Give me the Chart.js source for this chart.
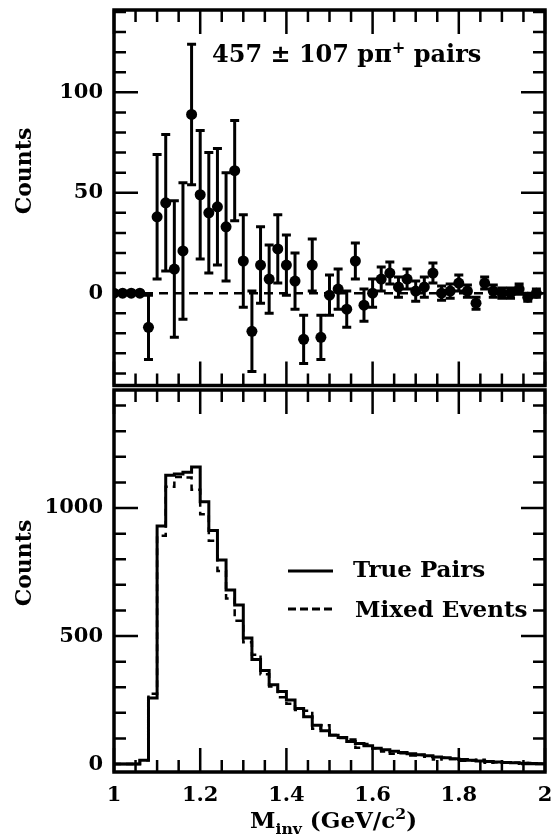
<!DOCTYPE html>
<html>
<head>
<meta charset="utf-8">
<script src="https://cdn.jsdelivr.net/npm/chart.js@4.4.1/dist/chart.umd.min.js"></script>
<style>
  html, body { margin: 0; padding: 0; background: #fff; }
  #wrap { position: relative; width: 557px; height: 838px; overflow: hidden;
          font-family: 'DejaVu Serif', serif; font-weight: bold; color: #000; }
  canvas { position: absolute; left: 0; }
  #top { top: 0; }
  #bottom { top: 387px; }
  .txt { position: absolute; white-space: nowrap; line-height: 1; }
  .rot { transform: translate(-50%, -50%) rotate(-90deg); }
  sub, sup { font-size: 0.68em; line-height: 0; }
</style>
</head>
<body>
<div id="wrap">
  <canvas id="top" width="557" height="393"></canvas>
  <canvas id="bottom" width="557" height="451"></canvas>
  <div class="txt" style="left:212px;top:42px;font-size:24px">457 ± 107 pπ<sup>+</sup> pairs</div>
  <div class="txt rot" style="left:23px;top:171px;font-size:22px">Counts</div>
  <div class="txt rot" style="left:23px;top:563px;font-size:22px">Counts</div>
  <div class="txt" style="left:353px;top:557px;font-size:23px">True Pairs</div>
  <div class="txt" style="left:355px;top:597px;font-size:23px">Mixed Events</div>
  <div class="txt" style="left:250px;top:808px;font-size:23px">M<sub>inv</sub> (GeV/c<sup>2</sup>)</div>
</div>
<script>
// invariant mass bins, 0.02 GeV/c^2 (left edge)
var massBins = [1.00, 1.02, 1.04, 1.06, 1.08, 1.10, 1.12, 1.14, 1.16, 1.18,
                1.20, 1.22, 1.24, 1.26, 1.28, 1.30, 1.32, 1.34, 1.36, 1.38,
                1.40, 1.42, 1.44, 1.46, 1.48, 1.50, 1.52, 1.54, 1.56, 1.58,
                1.60, 1.62, 1.64, 1.66, 1.68, 1.70, 1.72, 1.74, 1.76, 1.78,
                1.80, 1.82, 1.84, 1.86, 1.88, 1.90, 1.92, 1.94, 1.96, 1.98];

// upper panel: true - mixed
var diffCounts = [0, 0, 0, 0, -17, 38, 45, 12, 21, 89,
                  49, 40, 43, 33, 61, 16, -19, 14, 7, 22,
                  14, 6, -23, 14, -22, -1, 2, -8, 16, -6,
                  0, 7, 10, 3, 7, 1, 3, 10, 0, 1,
                  5, 1, -5, 5, 1, 0, 0, 2, -2, 0];
var diffErrors = [0, 0, 0, 0, 16, 31, 34, 34, 34, 35,
                  32, 30, 29, 27, 25, 23, 20, 19, 17, 17,
                  15, 14, 12, 13, 11, 10, 10, 9, 9, 8,
                  7, 6, 5.5, 5, 5, 5, 5, 5, 3.5, 3.5,
                  4, 3, 3, 3, 3, 2.5, 2.5, 2.5, 2, 2];

// lower panel: histograms
var truePairs = [0, 0, 0, 15, 258, 930, 1128, 1133, 1140, 1160,
                 1025, 912, 797, 680, 621, 492, 408, 365, 310, 283,
                 250, 217, 185, 152, 130, 113, 104, 88, 80, 72,
                 62, 56, 50, 45, 40, 36, 32, 28, 25, 21,
                 18, 15, 12, 10, 8, 6, 5, 3, 2, 1];
var mixedEvents = [0, 0, 0, 15, 275, 892, 1083, 1121, 1119, 1071,
                   976, 872, 754, 647, 560, 476, 427, 351, 303, 261,
                   236, 211, 208, 138, 152, 114, 102, 96, 64, 78,
                   62, 49, 40, 42, 33, 35, 29, 18, 25, 20,
                   13, 14, 17, 5, 7, 6, 5, 1, 4, 1];

var massTicks = [1, 1.2, 1.4, 1.6, 1.8, 2];
var diffTicks = [0, 50, 100];
var countTicks = [0, 500, 1000];

Chart.defaults.font.family = "'DejaVu Serif', serif";
Chart.defaults.font.weight = 'bold';
Chart.defaults.font.size = 21;
Chart.defaults.color = '#000';

/**
 * frame + inward tick marks on all four sides, legend samples
 */
var frameTicks = {
  id: 'frameTicks',
  afterDraw: function (chart, args, opts) {
    var ctx = chart.ctx, a = chart.chartArea;
    var xs = chart.scales.x, ys = chart.scales.y;
    ctx.save();
    ctx.strokeStyle = '#000';
    ctx.lineWidth = 2.5;
    ctx.beginPath();
    var i, v, p, len, n;
    n = Math.round((xs.max - xs.min) / opts.xMinor);
    for (i = 0; i <= n; i++) {
      v = xs.min + i * opts.xMinor;
      p = xs.getPixelForValue(v);
      len = Math.abs(v / opts.xMajor - Math.round(v / opts.xMajor)) < 1e-6 ? opts.major : opts.minor;
      ctx.moveTo(p, a.top); ctx.lineTo(p, a.top + len);
      ctx.moveTo(p, a.bottom); ctx.lineTo(p, a.bottom - len);
    }
    var start = Math.ceil(ys.min / opts.yMinor);
    var end = Math.floor(ys.max / opts.yMinor);
    for (i = start; i <= end; i++) {
      v = i * opts.yMinor;
      p = ys.getPixelForValue(v);
      len = (v % opts.yMajor === 0) ? opts.major : opts.minor;
      ctx.moveTo(a.left, p); ctx.lineTo(a.left + len, p);
      ctx.moveTo(a.right, p); ctx.lineTo(a.right - len, p);
    }
    ctx.stroke();
    ctx.lineWidth = 3.5;
    ctx.strokeRect(a.left, a.top, a.right - a.left, a.bottom - a.top);
    (opts.legend || []).forEach(function (l) {
      ctx.lineWidth = 3;
      ctx.setLineDash(l.dash);
      ctx.beginPath();
      ctx.moveTo(l.x1, l.y); ctx.lineTo(l.x2, l.y);
      ctx.stroke();
    });
    ctx.restore();
  }
};

// no label overflow padding, the frame is placed by layout.padding
function fixY(s) { s.width = 114; s.paddingTop = 0; s.paddingBottom = 0; }
function fixX(s) { s.height = 66; s.paddingLeft = 0; s.paddingRight = 0; }

// error bars as vertical segments, broken by null points
var errPts = [];
massBins.forEach(function (m, i) {
  errPts.push({x: m, y: diffCounts[i] - diffErrors[i]});
  errPts.push({x: m, y: diffCounts[i] + diffErrors[i]});
  errPts.push({x: m, y: null});
});

new Chart(document.getElementById('top'), {
  type: 'scatter',
  data: {
    datasets: [
      {
        data: [{x: 1, y: 0}, {x: 2, y: 0}],
        showLine: true, borderColor: '#000', borderWidth: 2.5,
        borderDash: [9, 6], pointRadius: 0
      },
      {
        data: errPts,
        showLine: true, spanGaps: false, borderColor: '#000', borderWidth: 3,
        pointStyle: 'line', pointRadius: 4.5, pointBorderWidth: 3,
        pointBorderColor: '#000'
      },
      {
        data: massBins.map(function (m, i) { return {x: m, y: diffCounts[i]}; }),
        pointRadius: 5.5, pointBackgroundColor: '#000', pointBorderColor: '#000',
        pointBorderWidth: 0
      }
    ]
  },
  options: {
    responsive: false,
    animation: false,
    devicePixelRatio: 1,
    layout: {padding: {left: 0, right: 12, top: 10, bottom: 3}},
    plugins: {
      legend: {display: false},
      tooltip: {enabled: false},
      frameTicks: {xMinor: 0.05, xMajor: 0.2, yMinor: 10, yMajor: 50, major: 24, minor: 12}
    },
    scales: {
      x: {type: 'linear', min: 1, max: 2, display: false},
      y: {
        type: 'linear', min: -46, max: 141,
        grid: {display: false, drawTicks: false},
        border: {display: false},
        ticks: {padding: 11, callback: function (v) { return String(v); }},
        afterBuildTicks: function (s) { s.ticks = diffTicks.map(function (v) { return {value: v}; }); },
        afterFit: fixY
      }
    }
  },
  plugins: [frameTicks]
});

function histPoints(vals) {
  var pts = massBins.map(function (m, i) { return {x: m, y: vals[i]}; });
  pts.push({x: 2, y: vals[vals.length - 1]});
  return pts;
}

new Chart(document.getElementById('bottom'), {
  type: 'scatter',
  data: {
    datasets: [
      {
        label: 'True Pairs',
        data: histPoints(truePairs),
        showLine: true, stepped: 'before', borderColor: '#000', borderWidth: 3,
        pointRadius: 0
      },
      {
        label: 'Mixed Events',
        data: histPoints(mixedEvents),
        showLine: true, stepped: 'before', borderColor: '#000', borderWidth: 2.5,
        borderDash: [7, 5], pointRadius: 0
      }
    ]
  },
  options: {
    responsive: false,
    animation: false,
    devicePixelRatio: 1,
    layout: {padding: {left: 0, right: 12, top: 3, bottom: 0}},
    plugins: {
      legend: {display: false},
      tooltip: {enabled: false},
      frameTicks: {
        xMinor: 0.05, xMajor: 0.2, yMinor: 100, yMajor: 500, major: 24, minor: 12,
        legend: [{x1: 288, x2: 333, y: 571 - 387, dash: []},
                 {x1: 288, x2: 333, y: 609 - 387, dash: [8, 4]}]
      }
    },
    scales: {
      x: {
        type: 'linear', min: 1, max: 2,
        grid: {display: false, drawTicks: false},
        border: {display: false},
        ticks: {padding: 11, maxRotation: 0, autoSkip: false,
                callback: function (v) { return String(Math.round(v * 10) / 10); }},
        afterBuildTicks: function (s) { s.ticks = massTicks.map(function (v) { return {value: v}; }); },
        afterFit: fixX
      },
      y: {
        type: 'linear', min: -31, max: 1461,
        grid: {display: false, drawTicks: false},
        border: {display: false},
        ticks: {padding: 11, callback: function (v) { return String(v); }},
        afterBuildTicks: function (s) { s.ticks = countTicks.map(function (v) { return {value: v}; }); },
        afterFit: fixY
      }
    }
  },
  plugins: [frameTicks]
});
</script>
</body>
</html>
